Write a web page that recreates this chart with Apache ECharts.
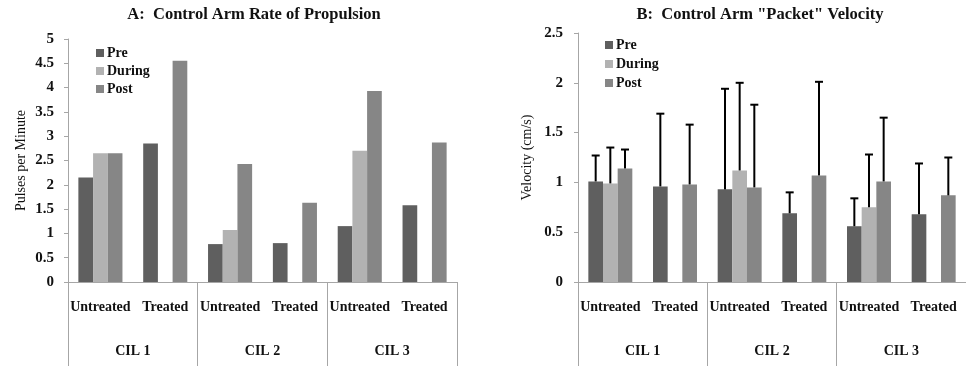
<!DOCTYPE html>
<html>
<head>
<meta charset="utf-8">
<script src="https://cdn.jsdelivr.net/npm/echarts@6/dist/echarts.min.js"></script>
<style>
html,body{margin:0;padding:0;background:#fff;}
#c{width:966px;height:366px;}
</style>
</head>
<body>
<div id="c"></div>
<script>
// ---- data ----
const subCats = ['Untreated', 'Treated', 'Untreated', 'Treated', 'Untreated', 'Treated'];
const groups = ['CIL 1', 'CIL 2', 'CIL 3'];
const seriesNames = ['Pre', 'During', 'Post'];

// A: Control Arm Rate of Propulsion (Pulses per Minute)
const aPre = [2.15, 2.85, 0.78, 0.80, 1.15, 1.58];
const aDuring = [2.65, null, 1.07, null, 2.70, null];
const aPost = [2.65, 4.55, 2.43, 1.63, 3.93, 2.87];

// B: Control Arm "Packet" Velocity (cm/s)
const bPre = [1.01, 0.96, 0.93, 0.69, 0.56, 0.68];
const bDuring = [0.99, null, 1.12, null, 0.75, null];
const bPost = [1.14, 0.98, 0.95, 1.07, 1.01, 0.87];
// upper ends of error bars
const bPreErr = [1.27, 1.69, 1.94, 0.90, 0.84, 1.19];
const bDuringErr = [1.35, null, 2.00, null, 1.28, null];
const bPostErr = [1.33, 1.58, 1.78, 2.01, 1.65, 1.25];

const aTicks = {min: 0, max: 5, interval: 0.5};
const bTicks = {min: 0, max: 2.5, interval: 0.5};

// ---- styling ----
const FONT = "'Liberation Serif', 'Times New Roman', serif";
const colors = ['#5f5f5f', '#b2b2b2', '#868686'];
const axisGray = '#a6a6a6';
const CAT_GAP = 0.32;

const chart = echarts.init(document.getElementById('c'), null, {renderer: 'canvas'});

function innerX(gi) {
  return {
    gridIndex: gi, type: 'category', data: subCats, position: 'bottom',
    axisLine: {show: true, lineStyle: {color: axisGray, width: 1}},
    axisTick: {show: false},
    axisLabel: {interval: 0, margin: 18, color: '#111', fontFamily: FONT, fontWeight: 'bold', fontSize: 14}
  };
}
function outerX(gi) {
  return {
    gridIndex: gi, type: 'category', data: groups, position: 'bottom',
    axisLine: {show: false},
    axisTick: {show: true, interval: 0, length: 95, lineStyle: {color: axisGray, width: 1}},
    axisLabel: {interval: 0, margin: 62, color: '#111', fontFamily: FONT, fontWeight: 'bold', fontSize: 14}
  };
}
function yAx(gi, t, name, gap, lm) {
  return {
    gridIndex: gi, type: 'value', min: t.min, max: t.max, interval: t.interval,
    name: name, nameLocation: 'middle', nameGap: gap, nameRotate: 90,
    nameTextStyle: {fontFamily: FONT, fontSize: 14, color: '#111'},
    axisLine: {show: true, lineStyle: {color: axisGray}},
    axisTick: {show: true, length: 4, lineStyle: {color: axisGray}},
    splitLine: {show: false},
    axisLabel: {margin: lm, color: '#111', fontFamily: FONT, fontWeight: 'bold', fontSize: 15}
  };
}
function bar(name, data, idx, axisIdx) {
  return {
    name: name, type: 'bar', data: data, xAxisIndex: axisIdx, yAxisIndex: axisIdx / 2,
    barGap: 0, barCategoryGap: (CAT_GAP * 100) + '%',
    itemStyle: {color: colors[idx]}, emphasis: {disabled: true}
  };
}
function errSeries(barVals, errVals, idx, xIdx, yIdx) {
  const d = [];
  errVals.forEach(function (e, i) { if (e != null) d.push([i, barVals[i], e]); });
  return {
    type: 'custom', xAxisIndex: xIdx, yAxisIndex: yIdx, data: d, z: 5,
    encode: {x: 0, y: [1, 2]}, silent: true,
    renderItem: function (params, api) {
      const band = api.size([1, 0])[0];
      const bw = band * (1 - CAT_GAP) / 3;
      const x = api.coord([api.value(0), 0])[0] + (idx - 1) * bw;
      const y0 = api.coord([api.value(0), api.value(1)])[1];
      const y1 = api.coord([api.value(0), api.value(2)])[1];
      const st = {stroke: '#000', lineWidth: 2};
      return {type: 'group', children: [
        {type: 'line', shape: {x1: x, y1: y0, x2: x, y2: y1}, style: st},
        {type: 'line', shape: {x1: x - 4, y1: y1, x2: x + 4, y2: y1}, style: st}
      ]};
    }
  };
}
function legend(left, top, gap) {
  return {
    left: left, top: top, orient: 'vertical', icon: 'rect', itemWidth: 8, itemHeight: 8, itemGap: gap,
    data: seriesNames, selectedMode: false,
    textStyle: {fontFamily: FONT, fontWeight: 'bold', fontSize: 14, color: '#111', lineHeight: 14, padding: [0, 0, 0, -2]}
  };
}

const option = {
  backgroundColor: '#fff',
  animation: false,
  title: [
    {text: 'A:  Control Arm Rate of Propulsion', left: 254, top: 6, textAlign: 'center', padding: 0,
     textStyle: {fontFamily: FONT, fontWeight: 'bold', fontSize: 16.5, color: '#111'}},
    {text: 'B:  Control Arm "Packet" Velocity', left: 760, top: 6, textAlign: 'center', padding: 0,
     textStyle: {fontFamily: FONT, fontWeight: 'bold', fontSize: 16.5, color: '#111'}}
  ],
  legend: [legend(91, 41, 4), legend(600, 33, 5)],
  grid: [
    {left: 68, top: 39, width: 389, height: 243},
    {left: 578, top: 33, width: 395, height: 249}
  ],
  xAxis: [innerX(0), outerX(0), innerX(1), outerX(1)],
  yAxis: [
    yAx(0, aTicks, 'Pulses per Minute', 40, 14),
    yAx(1, bTicks, 'Velocity (cm/s)', 44, 15)
  ],
  series: [
    bar('Pre', aPre, 0, 0), bar('During', aDuring, 1, 0), bar('Post', aPost, 2, 0),
    bar('Pre', bPre, 0, 2), bar('During', bDuring, 1, 2), bar('Post', bPost, 2, 2),
    errSeries(bPre, bPreErr, 0, 2, 1),
    errSeries(bDuring, bDuringErr, 1, 2, 1),
    errSeries(bPost, bPostErr, 2, 2, 1)
  ]
};
chart.setOption(option);
</script>
</body>
</html>
